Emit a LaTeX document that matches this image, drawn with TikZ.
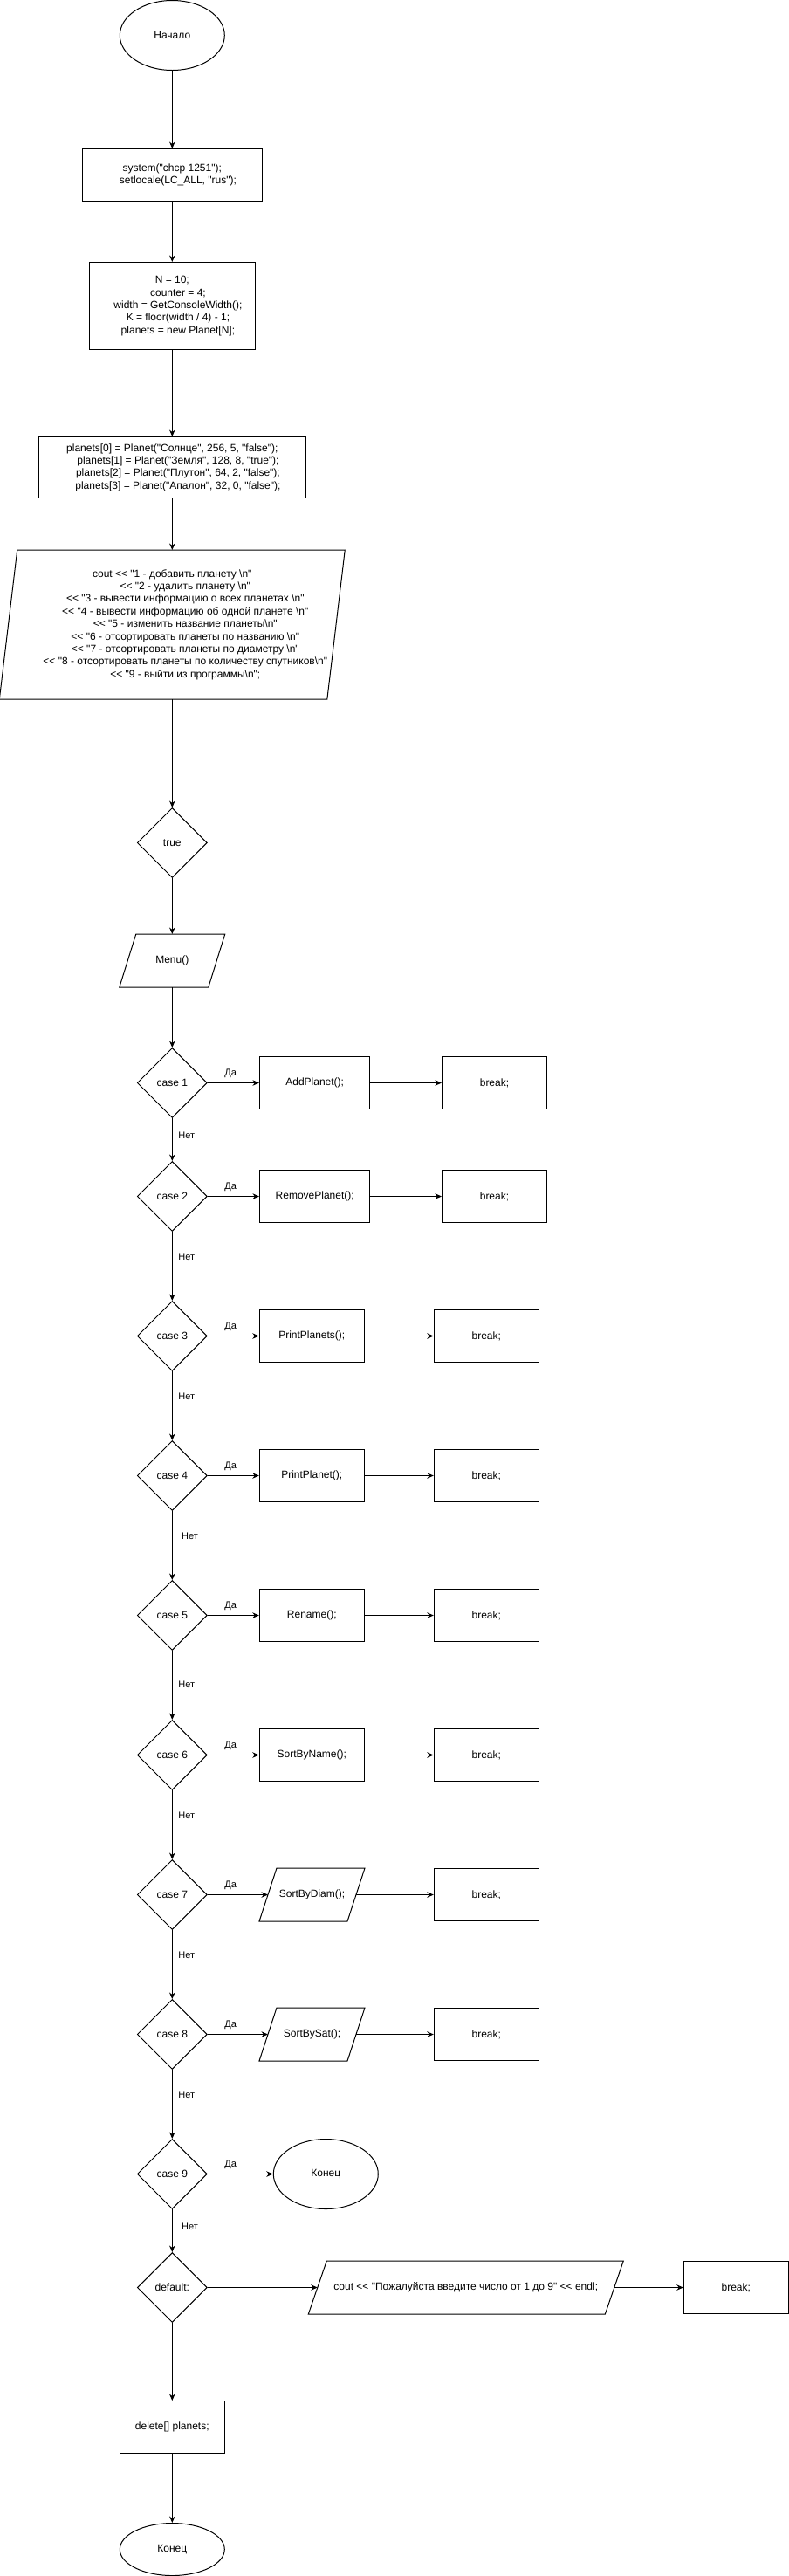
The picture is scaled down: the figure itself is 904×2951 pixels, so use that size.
\documentclass[tikz,border=0pt]{standalone}
\usepackage{fontspec}
\newfontfamily\chartfont{Liberation Sans}
\usepackage{tikz}
\usetikzlibrary{arrows.meta,shapes.geometric}
\def\txt{\chartfont\fontsize{12}{14.4}\selectfont}
\def\lbl{\chartfont\fontsize{11}{13.2}\selectfont}
\def\ind{\hspace*{13.3pt}}
\def\indB{\hspace*{30pt}}
\def\bs{\textbackslash}

\begin{document}
\begin{tikzpicture}[->,>={Stealth[length=7.5pt,width=6.5pt]},x=1pt,y=1pt,line width=1pt,
                    term node/.style={ellipse,draw,minimum width=120pt,minimum height=80pt,inner sep=0pt,font=\txt},
                    proc node/.style={rectangle,draw,minimum width=120pt,minimum height=60pt,inner sep=0pt,align=center,font=\txt},
                    io node/.style={rectangle,minimum width=100pt,minimum height=60pt,inner sep=0pt,align=center,font=\txt,
                                    append after command={\pgfextra{\draw[-] ([xshift=#1]\tikzlastnode.north west)
                                      -- ([xshift=#1]\tikzlastnode.north east) -- ([xshift=-#1]\tikzlastnode.south east)
                                      -- ([xshift=-#1]\tikzlastnode.south west) -- cycle;}}},
                    io node/.default=10pt,
                    case node/.style={diamond,draw,minimum width=80pt,minimum height=80pt,inner sep=0pt,font=\txt},
                    yes lab/.style={at start,xshift=26.3pt,yshift=10.4pt,inner sep=0pt,font=\lbl},
                    no lab/.style={at start,xshift=16.5pt,inner sep=0pt,font=\lbl}]

  \useasboundingbox (0,0) rectangle (904,-2951);

  \node[term node] (start) at (197.3,-40.5) {Начало};
  \node[proc node,minimum width=206pt,node distance=160pt] (sys) [below of=start]
       {system("chcp 1251");\\ \ind setlocale(LC\_ALL, "rus");};
  \node[proc node,minimum width=190pt,minimum height=100pt,node distance=150pt] (init) [below of=sys]
       {N = 10;\\ \ind counter = 4;\\ \ind width = GetConsoleWidth();\\ \ind K = floor(width / 4) - 1;\\ \ind planets = new Planet[N];};
  \node[proc node,minimum width=306pt,minimum height=70pt,node distance=185pt] (plan) [below of=init]
       {planets[0] = Planet("Солнце", 256, 5, "false");\\
        \ind planets[1] = Planet("Земля", 128, 8, "true");\\
        \ind planets[2] = Planet("Плутон", 64, 2, "false");\\
        \ind planets[3] = Planet("Апалон", 32, 0, "false");};
  \node[io node=10.2pt,minimum width=374.5pt,minimum height=170pt,node distance=180pt] (out) [below of=plan]
       {cout << "1 - добавить планету \bs n"\\
        \indB << "2 - удалить планету \bs n"\\
        \indB << "3 - вывести информацию о всех планетах \bs n"\\
        \indB << "4 - вывести информацию об одной планете \bs n"\\
        \indB << "5 - изменить название планеты\bs n"\\
        \indB << "6 - отсортировать планеты по названию \bs n"\\
        \indB << "7 - отсортировать планеты по диаметру \bs n"\\
        \indB << "8 - отсортировать планеты по количеству спутников\bs n"\\
        \indB << "9 - выйти из программы\bs n";};
  \node[case node,node distance=250pt] (loop) [below of=out] {true};
  \node[io node=9.5pt,minimum width=101pt,node distance=135pt] (menu) [below of=loop] {Menu()};

  \node[case node,node distance=140pt] (c1) [below of=menu] {case 1};
  \node[case node,node distance=130pt] (c2) [below of=c1] {case 2};
  \node[case node,node distance=160pt] (c3) [below of=c2] {case 3};
  \node[case node,node distance=160pt] (c4) [below of=c3] {case 4};
  \node[case node,node distance=160pt] (c5) [below of=c4] {case 5};
  \node[case node,node distance=160pt] (c6) [below of=c5] {case 6};
  \node[case node,node distance=160pt] (c7) [below of=c6] {case 7};
  \node[case node,node distance=160pt] (c8) [below of=c7] {case 8};
  \node[case node,node distance=160pt] (c9) [below of=c8] {case 9};
  \node[case node,node distance=130pt] (dflt) [below of=c9] {default:};
  \node[proc node,node distance=160pt] (del) [below of=dflt] {delete[] planets;};
  \node[term node,minimum height=60pt,node distance=140pt] (stop) [below of=del] {Конец};

  \node[proc node,minimum width=126.5pt,node distance=163.4pt] (f1) [right of=c1] {AddPlanet();};
  \node[proc node,node distance=205.8pt] (b1) [right of=f1] {break;};
  \node[proc node,minimum width=126.5pt,node distance=163.4pt] (f2) [right of=c2] {RemovePlanet();};
  \node[proc node,node distance=205.8pt] (b2) [right of=f2] {break;};
  \node[proc node,node distance=160pt] (f3) [right of=c3] {PrintPlanets();};
  \node[proc node,node distance=200pt] (b3) [right of=f3] {break;};
  \node[proc node,node distance=160pt] (f4) [right of=c4] {PrintPlanet();};
  \node[proc node,node distance=200pt] (b4) [right of=f4] {break;};
  \node[proc node,node distance=160pt] (f5) [right of=c5] {Rename();};
  \node[proc node,node distance=200pt] (b5) [right of=f5] {break;};
  \node[proc node,node distance=160pt] (f6) [right of=c6] {SortByName();};
  \node[proc node,node distance=200pt] (b6) [right of=f6] {break;};
  \node[io node,node distance=160.2pt] (f7) [right of=c7] {SortByDiam();};
  \node[proc node,node distance=199.8pt] (b7) [right of=f7] {break;};
  \node[io node,node distance=160.2pt] (f8) [right of=c8] {SortBySat();};
  \node[proc node,node distance=199.8pt] (b8) [right of=f8] {break;};
  \node[term node,node distance=176pt] (fin) [right of=c9] {Конец};
  \node[io node=10.5pt,minimum width=339pt,node distance=336.5pt] (msg) [right of=dflt]
       {cout << "Пожалуйста введите число от 1 до 9" << endl;};
  \node[proc node,node distance=309.5pt] (b9) [right of=msg] {break;};

  \path (start) edge (sys)
        (sys) edge (init)
        (init) edge (plan)
        (plan) edge (out)
        (out) edge (loop)
        (loop) edge (menu)
        (menu) edge (c1)
        (c1) edge node[yes lab] {Да} (f1)
        (f1) edge (b1)
        (c1) edge node[no lab,yshift=-19.3pt] {Нет} (c2)
        (c2) edge node[yes lab] {Да} (f2)
        (f2) edge (b2)
        (c2) edge node[no lab,yshift=-29pt] {Нет} (c3)
        (c3) edge node[yes lab] {Да} (f3)
        (f3) edge (b3)
        (c3) edge node[no lab,yshift=-29pt] {Нет} (c4)
        (c4) edge node[yes lab] {Да} (f4)
        (f4) edge (b4)
        (c4) edge node[no lab,xshift=3.7pt,yshift=-29pt] {Нет} (c5)
        (c5) edge node[yes lab] {Да} (f5)
        (f5) edge (b5)
        (c5) edge node[no lab,yshift=-39.2pt] {Нет} (c6)
        (c6) edge node[yes lab] {Да} (f6)
        (f6) edge (b6)
        (c6) edge node[no lab,yshift=-29pt] {Нет} (c7)
        (c7) edge node[yes lab] {Да} (f7)
        (f7) edge (b7)
        (c7) edge node[no lab,yshift=-29pt] {Нет} (c8)
        (c8) edge node[yes lab] {Да} (f8)
        (f8) edge (b8)
        (c8) edge node[no lab,yshift=-29pt] {Нет} (c9)
        (c9) edge node[yes lab] {Да} (fin)
        (c9) edge node[no lab,xshift=3.7pt,yshift=-19.3pt] {Нет} (dflt)
        (dflt) edge (msg)
        (msg) edge (b9)
        (dflt) edge (del)
        (del) edge (stop);
\end{tikzpicture}
\end{document}
